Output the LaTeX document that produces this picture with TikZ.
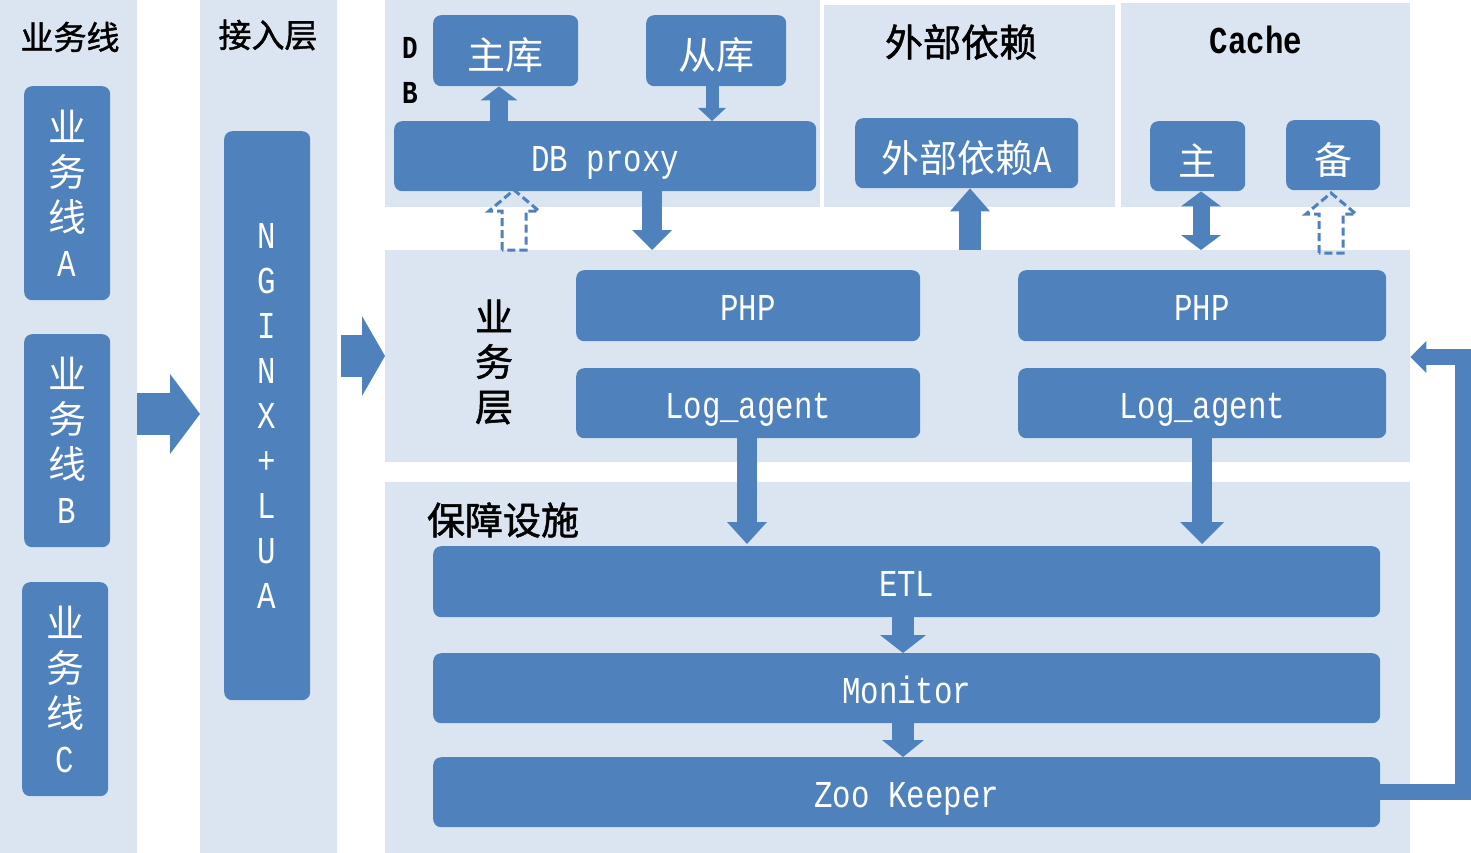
\documentclass[tikz,border=0pt]{standalone}
\usepackage{fontspec}
\setmainfont{Noto Sans CJK SC}
\newfontfamily\latinmono[FakeStretch=0.81]{Liberation Mono}
\newfontfamily\titlefont[FakeBold=1.3]{Noto Sans CJK SC}
\usepackage{xcolor}
\usetikzlibrary{arrows.meta,calc}
\definecolor{panelbg}{RGB}{219,229,241}
\definecolor{boxblue}{RGB}{79,129,189}

\tikzset{
	panel/.style={fill=panelbg,inner sep=0pt,anchor=north west},
	box/.style={fill=boxblue,rounded corners=8pt,inner sep=0pt,anchor=north west,
		text=white,align=center,font=\fontsize{38}{45}\selectfont},
	oneline/.style={text height=36pt,text depth=6pt},
	cjkline/.style={text height=44pt,text depth=6pt},
	title/.style={inner sep=0pt,align=center,font=\fontsize{33}{45}\selectfont\titlefont},
	bigtitle/.style={title,font=\fontsize{38}{45}\selectfont\titlefont},
	bigarrow/.style={draw=boxblue,line width=20pt,
		-{Triangle[length=20pt,width=40pt,line width=0pt]}},
	hollow up/.pic={
		\draw[boxblue,line width=3pt,dash pattern=on 8pt off 4pt,line join=miter]
			(-12,0) -- (-12,-39) -- (-25,-39) -- (0,-60) -- (25,-39) -- (12,-39) -- (12,0) -- cycle;
	}
}

\begin{document}
\begin{tikzpicture}[x=1pt,y=-1pt]
			\useasboundingbox (0,0) rectangle (1471,853);
			% panels
			\node[panel,minimum width=137pt,minimum height=853pt] (linepanel) at (0,0) {};
			\node[panel,minimum width=137pt,minimum height=853pt] (accesspanel) at (200,0) {};
			\node[panel,minimum width=435pt,minimum height=207pt] (dbpanel) at (385,0) {};
			\node[panel,minimum width=291pt,minimum height=202pt] (extpanel) at (824,5) {};
			\node[panel,minimum width=289pt,minimum height=204pt] (cachepanel) at (1121,3) {};
			\node[panel,minimum width=1025pt,minimum height=212pt] (bizpanel) at (385,250) {};
			\node[panel,minimum width=1025pt,minimum height=371pt] (infrapanel) at (385,482) {};

			% titles
			\node[title] (linetitle) at (70,37) {业务线};
			\node[title] (accesstitle) at (268,35) {接入层};
			\node[title,font=\fontsize{32}{45}\selectfont\latinmono\bfseries] (dbtitle) at (410,70) {D\\B};
			\node[bigtitle] (exttitle) at (961,42) {外部依赖};
			\node[title,font=\fontsize{38}{45}\selectfont\latinmono\bfseries] (cachetitle) at (1256,40) {Cache};
			\node[bigtitle] (biztitle) at (494,362) {业\\务\\层};
			\node[bigtitle] (infratitle) at (503,520) {保障设施};

			% boxes
			\node[box,minimum width=86pt,minimum height=214pt] (lineA) at (24,86) {业\\务\\线\\{\latinmono A}};
			\node[box,minimum width=86pt,minimum height=213pt] (lineB) at (24,334) {业\\务\\线\\{\latinmono B}};
			\node[box,minimum width=86pt,minimum height=214pt] (lineC) at (22,582) {业\\务\\线\\{\latinmono C}};
			\node[box,minimum width=86pt,minimum height=569pt,font=\fontsize{38}{45}\selectfont\latinmono] (nginx) at (224,131)
				{N\\G\\I\\N\\X\\+\\L\\U\\A};
			\node[box,cjkline,minimum width=145pt,minimum height=71pt] (master) at (433,15) {主库};
			\node[box,cjkline,minimum width=140pt,minimum height=71pt] (slave) at (646,15) {从库};
			\node[box,oneline,minimum width=422pt,minimum height=70pt] (dbproxy) at (394,121) {\latinmono DB proxy};
			\node[box,cjkline,minimum width=223pt,minimum height=70pt] (extA) at (855,118) {外部依赖{\latinmono A}};
			\node[box,cjkline,minimum width=95pt,minimum height=70pt] (cmaster) at (1150,121) {主};
			\node[box,cjkline,minimum width=94pt,minimum height=70pt] (cbackup) at (1286,120) {备};
			\node[box,oneline,minimum width=344pt,minimum height=71pt] (phpA) at (576,270) {\latinmono PHP};
			\node[box,oneline,minimum width=344pt,minimum height=70pt] (logA) at (576,368) {\latinmono Log\_agent};
			\node[box,oneline,minimum width=368pt,minimum height=71pt] (phpB) at (1018,270) {\latinmono PHP};
			\node[box,oneline,minimum width=368pt,minimum height=70pt] (logB) at (1018,368) {\latinmono Log\_agent};
			\node[box,oneline,minimum width=947pt,minimum height=71pt] (etl) at (433,546) {\latinmono ETL};
			\node[box,oneline,minimum width=947pt,minimum height=70pt] (monitor) at (433,653) {\latinmono Monitor};
			\node[box,oneline,minimum width=947pt,minimum height=70pt] (zk) at (433,757) {\latinmono Zoo Keeper};

			% arrows
			\draw[bigarrow,line width=42pt,-{Triangle[length=30pt,width=80pt,line width=0pt]}]
				(linepanel.east |- 0,414) -- (accesspanel.west |- 0,414);
			\draw[bigarrow,line width=42pt,-{Triangle[length=23pt,width=80pt,line width=0pt]}]
				(341,356) -- (bizpanel.west |- 0,356);
			\draw[bigarrow,line width=18pt,-{Triangle[length=14pt,width=37pt,line width=0pt]}]
				(499,0 |- dbproxy.north) -- (499,0 |- master.south);
			\draw[bigarrow,line width=13pt,-{Triangle[length=13pt,width=28pt,line width=0pt]}]
				(712,0 |- slave.south) -- (712,0 |- dbproxy.north);
			\draw[bigarrow] (652,0 |- dbproxy.south) -- (652,0 |- bizpanel.north);
			\pic (dbdash) at (514,0 |- bizpanel.north) {hollow up};
			\draw[bigarrow,line width=22pt,-{Triangle[length=23pt,width=40pt,line width=0pt]}]
				(970,0 |- bizpanel.north) -- (970,0 |- extA.south);
			\draw[bigarrow,line width=17pt,{Triangle[length=15pt,width=40pt,line width=0pt]}-{Triangle[length=15pt,width=40pt,line width=0pt]}]
				(1201,0 |- cmaster.south) -- (1201,0 |- bizpanel.north);
			\pic (cachedash) at (1331,253) {hollow up};
			\draw[bigarrow,-{Triangle[length=22pt,width=40pt,line width=0pt]}]
				(747,0 |- logA.south) -- (747,544);
			\draw[bigarrow,-{Triangle[length=22pt,width=44pt,line width=0pt]}]
				(1202,0 |- logB.south) -- (1202,544);
			\draw[bigarrow,line width=22pt,-{Triangle[length=18pt,width=46pt,line width=0pt]}]
				(903,0 |- etl.south) -- (903,0 |- monitor.north);
			\draw[bigarrow,line width=22pt,-{Triangle[length=17pt,width=42pt,line width=0pt]}]
				(903,0 |- monitor.south) -- (903,0 |- zk.north);
			\coordinate (fbtop) at (1463,357);
			\draw[bigarrow,line width=16pt,line join=miter,-{Triangle[length=16pt,width=32pt,line width=0pt]}]
				(zk.east) -| (fbtop) -- (fbtop -| bizpanel.east);
		\end{tikzpicture}
\end{document}
